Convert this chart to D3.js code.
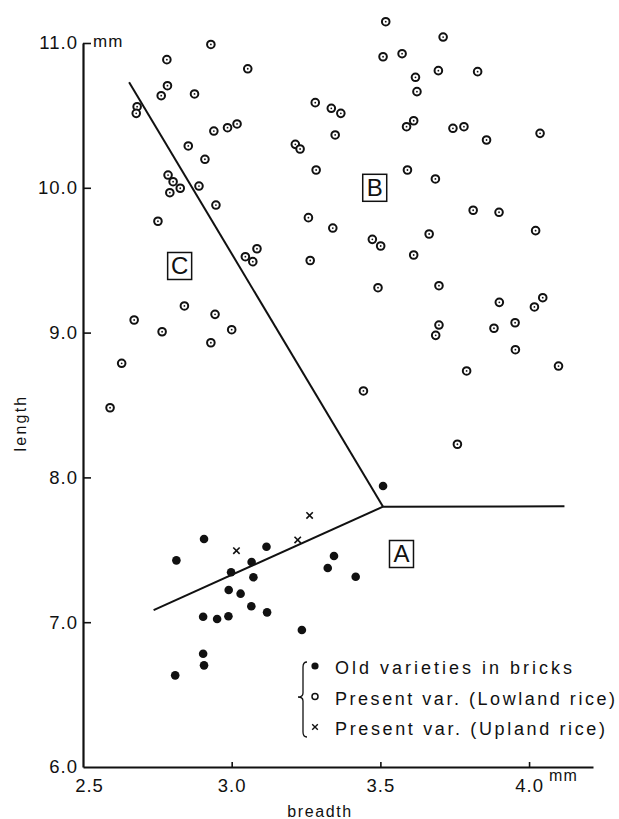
<!DOCTYPE html>
<html>
<head>
<meta charset="utf-8">
<script src="https://cdn.jsdelivr.net/npm/d3@7"></script>
<style>
  body { margin: 0; background: #fff; }
  text { font-family: "Liberation Sans", Arial, sans-serif; fill: #111; }
</style>
</head>
<body>
<svg id="chart" width="619" height="819"></svg>
<script>
// grain breadth / length (mm)
const lowland = [
  [2.930, 10.99], [2.782, 10.885], [3.054, 10.822], [2.784, 10.705], [2.763, 10.636],
  [2.875, 10.648], [3.281, 10.588], [2.682, 10.560], [2.679, 10.514], [2.940, 10.392],
  [2.986, 10.415], [3.018, 10.441], [3.214, 10.300], [3.230, 10.268], [2.854, 10.289],
  [2.910, 10.197], [3.284, 10.123], [2.786, 10.088], [2.803, 10.042], [2.827, 9.997],
  [2.792, 9.966], [2.890, 10.012], [2.947, 9.881], [2.752, 9.769], [3.258, 9.794],
  [3.085, 9.579], [3.046, 9.524], [3.071, 9.490], [3.264, 9.498],
  [3.518, 11.147], [3.711, 11.041], [3.509, 10.905], [3.573, 10.926], [3.695, 10.809],
  [3.827, 10.802], [3.618, 10.763], [3.623, 10.664], [3.335, 10.549], [3.367, 10.514],
  [3.612, 10.463], [3.588, 10.422], [3.744, 10.411], [3.781, 10.422], [3.857, 10.330],
  [4.037, 10.376], [3.348, 10.365], [3.591, 10.123], [3.685, 10.061], [3.812, 9.845],
  [3.899, 9.831], [3.340, 9.722], [4.022, 9.704], [3.473, 9.644], [3.501, 9.598],
  [3.664, 9.681], [3.612, 9.536],
  [2.841, 9.184], [2.672, 9.087], [2.944, 9.126], [2.766, 9.006], [3.000, 9.020],
  [2.930, 8.930], [2.630, 8.788], [2.591, 8.481],
  [3.492, 9.310], [3.697, 9.324], [3.900, 9.209], [4.046, 9.241], [4.018, 9.177],
  [3.953, 9.068], [3.697, 9.052], [3.686, 8.981], [3.882, 9.030], [3.954, 8.882],
  [4.099, 8.769], [3.790, 8.735], [3.443, 8.597], [3.759, 8.229]
];

const oldBricks = [
  [2.907, 7.575], [2.814, 7.427], [3.117, 7.521], [3.067, 7.416], [2.998, 7.345],
  [3.073, 7.310], [2.990, 7.222], [3.030, 7.197], [3.066, 7.110], [3.119, 7.068],
  [2.904, 7.038], [2.951, 7.022], [2.989, 7.041], [3.236, 6.946], [2.904, 6.782],
  [2.907, 6.702], [2.810, 6.633], [3.344, 7.457], [3.323, 7.374], [3.417, 7.314],
  [3.509, 7.941]
];

const upland = [[3.016, 7.494], [3.222, 7.568], [3.262, 7.737]];

// discriminating lines meet at one vertex
const vertex = [3.509, 7.798];
const boundaryEnds = [[2.655, 10.729], [4.119, 7.800], [2.7375, 7.084]];

const regions = [
  { name: 'A', x: 3.571, y: 7.471 },
  { name: 'B', x: 3.481, y: 10.0 },
  { name: 'C', x: 2.825, y: 9.46 }
];

const xTicks = [2.5, 3.0, 3.5, 4.0];
const yTicks = [6, 7, 8, 9, 10, 11];

const legendItems = [
  { kind: 'old', label: 'Old varieties in bricks', len: 237 },
  { kind: 'lowland', label: 'Present var. (Lowland rice)', len: 280 },
  { kind: 'upland', label: 'Present var. (Upland rice)', len: 270 }
];

const INK = '#111';
const svg = d3.select('#chart');

const x = d3.scaleLinear().domain([2.5, 4.215]).range([83, 593]);
const y = d3.scaleLinear().domain([6, 11]).range([767, 43]);

// axes, ticks point inward
const xAxis = svg.append('g')
  .attr('transform', `translate(0,${y(6)})`)
  .call(d3.axisBottom(x).tickValues(xTicks).tickFormat(d3.format('.1f'))
    .tickSize(-5).tickSizeOuter(0).tickPadding(12));
const yAxis = svg.append('g')
  .attr('transform', `translate(${x(2.5)},0)`)
  .call(d3.axisLeft(y).tickValues(yTicks).tickFormat(d3.format('.1f'))
    .tickSize(-8).tickSizeOuter(0).tickPadding(5));

[xAxis, yAxis].forEach((g) => {
  g.attr('font-size', 18.5).attr('font-family', null);
  g.select('.domain').attr('stroke', INK).attr('stroke-width', 2.2);
  g.selectAll('.tick line').attr('stroke', INK).attr('stroke-width', 1.6);
  g.selectAll('.tick text').attr('letter-spacing', 1);
});
xAxis.selectAll('.tick').filter(d => d === 2.5).select('line').remove();
xAxis.selectAll('.tick').filter(d => d === 2.5).select('text').attr('dx', 6);
yAxis.selectAll('.tick').filter(d => d === 6).select('line').remove();

// unit marks
svg.append('text').attr('x', x(4.0) + 20).attr('y', 781)
  .attr('font-size', 16).attr('letter-spacing', 1).text('mm');
svg.append('text').attr('x', x(2.5) + 10).attr('y', y(11) + 4)
  .attr('font-size', 17).attr('letter-spacing', 1).text('mm');

// axis titles
svg.append('text').attr('x', 320).attr('y', 817)
  .attr('text-anchor', 'middle').attr('font-size', 16).attr('letter-spacing', 1.6)
  .text('breadth');
svg.append('text')
  .attr('transform', `translate(26,${423}) rotate(-90)`)
  .attr('text-anchor', 'middle').attr('font-size', 16).attr('letter-spacing', 2.2)
  .text('length');

// boundary lines
svg.append('g').selectAll('line')
  .data(boundaryEnds)
  .join('line')
  .attr('x1', x(vertex[0])).attr('y1', y(vertex[1]))
  .attr('x2', d => x(d[0])).attr('y2', d => y(d[1]))
  .attr('stroke', INK).attr('stroke-width', 2);

// markers
const crossPath = s => `M${-s},${-s}L${s},${s}M${-s},${s}L${s},${-s}`;

const lowG = svg.append('g').selectAll('g')
  .data(lowland)
  .join('g')
  .attr('transform', d => `translate(${x(d[0])},${y(d[1])})`);
lowG.append('circle').attr('r', 3.8)
  .attr('fill', '#fff').attr('stroke', INK).attr('stroke-width', 2);
lowG.append('circle').attr('r', 0.9).attr('fill', INK);

svg.append('g').selectAll('circle')
  .data(oldBricks)
  .join('circle')
  .attr('cx', d => x(d[0])).attr('cy', d => y(d[1]))
  .attr('r', 4.3).attr('fill', INK);

svg.append('g').selectAll('path')
  .data(upland)
  .join('path')
  .attr('transform', d => `translate(${x(d[0])},${y(d[1])})`)
  .attr('d', crossPath(3.2))
  .attr('stroke', INK).attr('stroke-width', 1.6).attr('fill', 'none');

// boxed region letters
const regionG = svg.append('g').selectAll('g')
  .data(regions)
  .join('g')
  .attr('transform', d => `translate(${x(d.x)},${y(d.y)})`);
regionG.append('rect')
  .attr('x', -12).attr('y', -13.5).attr('width', 24).attr('height', 27)
  .attr('fill', '#fff').attr('stroke', INK).attr('stroke-width', 1.5);
regionG.append('text')
  .attr('text-anchor', 'middle').attr('y', 8.5)
  .attr('font-size', 24)
  .text(d => d.name);

// legend with a brace
const legend = svg.append('g');
legend.append('path')
  .attr('d', 'M307,662 Q303,662 303,667 L303,693 Q303,697 298,697 Q303,697 303,701 L303,732 Q303,737 307,737')
  .attr('fill', 'none').attr('stroke', INK).attr('stroke-width', 1.3);

const rows = legend.selectAll('g.row')
  .data(legendItems)
  .join('g')
  .attr('class', 'row')
  .attr('transform', (d, i) => `translate(315,${666 + i * 30.5})`);
rows.filter(d => d.kind === 'old').append('circle').attr('r', 3.6).attr('fill', INK);
rows.filter(d => d.kind === 'lowland').append('circle')
  .attr('r', 3).attr('fill', '#fff').attr('stroke', INK).attr('stroke-width', 1.5);
rows.filter(d => d.kind === 'upland').append('path')
  .attr('d', crossPath(2.8)).attr('stroke', INK).attr('stroke-width', 1.4);
rows.append('text')
  .attr('x', 20).attr('y', 8)
  .attr('font-size', 18)
  .attr('textLength', d => d.len).attr('lengthAdjust', 'spacing')
  .text(d => d.label);
</script>
</body>
</html>
